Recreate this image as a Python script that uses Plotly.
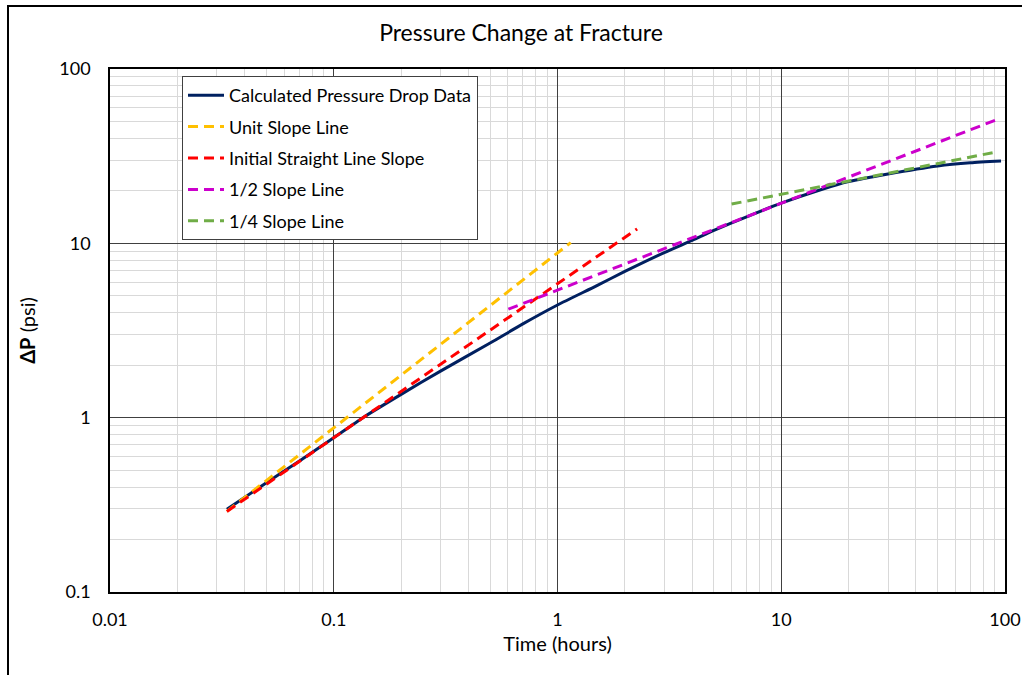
import plotly.graph_objects as go

# Calculated pressure drop data
time_hours = [0.0333, 0.05, 0.07, 0.1, 0.135, 0.2, 0.3, 0.5, 0.7, 1.0, 1.5, 2.0, 3.0, 4.0, 5.0,
              7.0, 10.0, 15.0, 20.0, 30.0, 50.0, 70.0, 96.0]
dp_psi = [0.298, 0.423, 0.562, 0.767, 1.0, 1.36, 1.85, 2.68, 3.45, 4.43, 5.72, 6.9, 8.85, 10.4, 11.85,
          14.2, 17.0, 20.3, 22.6, 25.0, 27.8, 29.0, 29.7]

# Reference lines (end points)
unit_x = [0.0333, 1.146]
unit_y = [0.29, 10.1]
init_x = [0.0333, 2.27]
init_y = [0.29, 12.1]
half_x = [0.603, 92.7]
half_y = [4.19, 51.5]
quarter_x = [6.0, 90.2]
quarter_y = [16.8, 33.3]

x_tickvals = [0.01, 0.1, 1, 10, 100]
x_ticktext = ["0.01", "0.1", "1", "10", "100"]
y_tickvals = [0.1, 1, 10, 100]
y_ticktext = ["0.1", "1", "10", "100"]

FONT = "Lato, 'Noto Sans', sans-serif"
DASH = "10px,6px"

fig = go.Figure()
fig.add_trace(go.Scatter(x=time_hours, y=dp_psi, mode="lines", name="Calculated Pressure Drop Data",
                         line=dict(color="#002060", width=3, shape="spline", smoothing=0.6),
                         legendgroup="a"))
fig.add_trace(go.Scatter(x=unit_x, y=unit_y, mode="lines", name="Unit Slope Line",
                         line=dict(color="#FFC000", width=3, dash=DASH), legendgroup="b"))
fig.add_trace(go.Scatter(x=init_x, y=init_y, mode="lines", name="Initial Straight Line Slope",
                         line=dict(color="#FF0000", width=3, dash=DASH), legendgroup="c"))
fig.add_trace(go.Scatter(x=half_x, y=half_y, mode="lines", name="1/2 Slope Line",
                         line=dict(color="#CC00CC", width=3, dash=DASH), legendgroup="d"))
fig.add_trace(go.Scatter(x=quarter_x, y=quarter_y, mode="lines", name="1/4 Slope Line",
                         line=dict(color="#70AD47", width=3, dash=DASH), legendgroup="e"))

L, R, T, B = 110, 17, 69, 83
W, H = 1022, 675
pw = W - L - R
ph = H - T - B

axis_common = dict(
    type="log",
    automargin=False,
    showgrid=True, gridcolor="#404040", gridwidth=1,
    minor=dict(dtick="D1", showgrid=True, gridcolor="#D9D9D9", gridwidth=1, ticks=""),
    showline=True, linecolor="black", linewidth=1.5, mirror=True,
    ticks="outside", tickcolor="rgba(0,0,0,0)",
    tickfont=dict(family=FONT, size=18, color="black"),
    zeroline=False,
)

fig.update_xaxes(**axis_common, range=[-2, 2], tickvals=x_tickvals, ticktext=x_ticktext, ticklen=11,
                 title=dict(text="Time (hours)", font=dict(family=FONT, size=20, color="black"), standoff=8))
fig.update_yaxes(**axis_common, range=[-1, 2], tickvals=y_tickvals, ticktext=y_ticktext, ticklen=14,
                 title=dict(text="<b>ΔP</b> (psi)", font=dict(family=FONT, size=20, color="black"), standoff=18))

fig.update_layout(
    width=W, height=H,
    margin=dict(l=L, r=R, t=T, b=B),
    paper_bgcolor="white", plot_bgcolor="white",
    font=dict(family=FONT, color="black"),
    title=dict(text="Pressure Change at Fracture", font=dict(family=FONT, size=23, color="black"),
               x=(521 - L) / pw, xref="paper", xanchor="center",
               y=1 - 33 / H, yref="container", yanchor="middle"),
    showlegend=True,
    legend=dict(x=(182 - L) / pw, y=1 - (76 - T) / ph, xanchor="left", yanchor="top",
                bgcolor="white", bordercolor="#404040", borderwidth=1,
                font=dict(family=FONT, size=18, color="black"),
                tracegroupgap=5, traceorder="grouped", itemwidth=36),
    shapes=[dict(type="rect", xref="paper", yref="paper",
                 x0=(8 - L) / pw, x1=(1060 - L) / pw,
                 y0=(H - B - 720) / ph, y1=(H - B - 6) / ph,
                 line=dict(color="black", width=2), fillcolor="rgba(0,0,0,0)", layer="below")],
)

fig.write_html("out.html")
